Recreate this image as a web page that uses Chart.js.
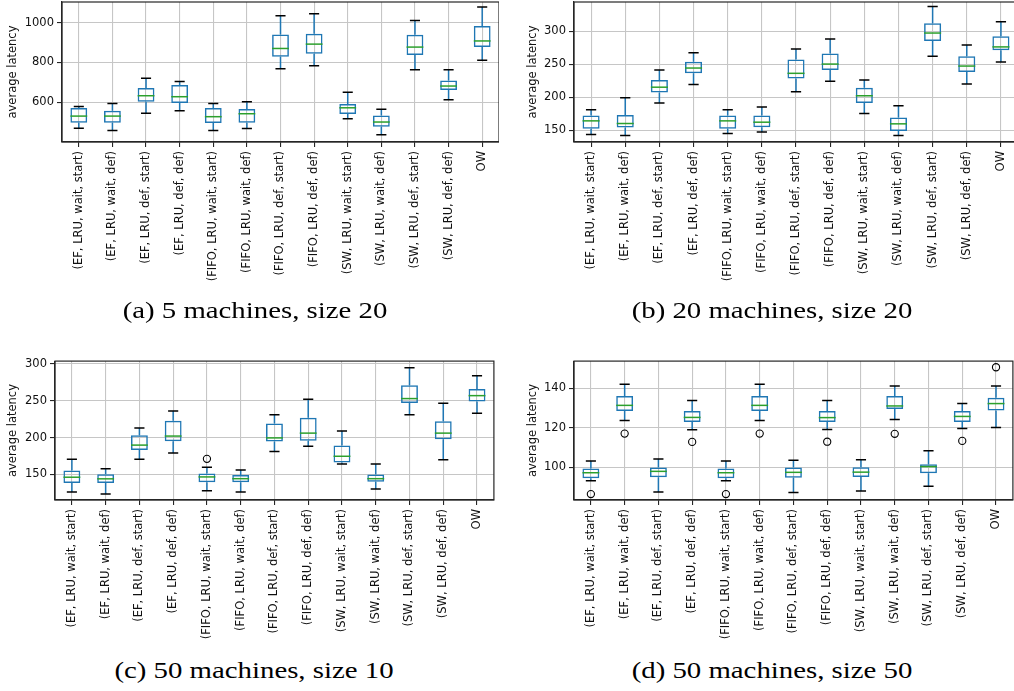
<!DOCTYPE html>
<html>
<head>
<meta charset="utf-8">
<script src="https://cdn.jsdelivr.net/npm/chart.js@4.4.1/dist/chart.umd.min.js"></script>
<style>
  html, body { margin: 0; padding: 0; background: #fff; }
  body { width: 1014px; height: 691px; overflow: hidden; position: relative; }
  canvas { position: absolute; }
  .cap {
    position: absolute; font-family: "Liberation Serif"; font-size: 24px;
    line-height: 24px; white-space: nowrap; color: #000;
    transform: translateX(-50%) scaleX(1.2);
  }
</style>
</head>
<body>
<canvas id="ca" width="497" height="300" style="left:2px;top:0px"></canvas>
<canvas id="cb" width="496" height="300" style="left:522px;top:0px"></canvas>
<canvas id="cc" width="497" height="300" style="left:2px;top:356px"></canvas>
<canvas id="cd" width="496" height="300" style="left:522px;top:356px"></canvas>
<div class="cap" style="left:255px;top:298px">(a) 5 machines, size 20</div>
<div class="cap" style="left:772px;top:298px">(b) 20 machines, size 20</div>
<div class="cap" style="left:254px;top:658px">(c) 50 machines, size 10</div>
<div class="cap" style="left:772px;top:658px">(d) 50 machines, size 50</div>
<script>
const labels = [
  '(EF, LRU, wait, start)', '(EF, LRU, wait, def)', '(EF, LRU, def, start)', '(EF, LRU, def, def)',
  '(FIFO, LRU, wait, start)', '(FIFO, LRU, wait, def)', '(FIFO, LRU, def, start)', '(FIFO, LRU, def, def)',
  '(SW, LRU, wait, start)', '(SW, LRU, wait, def)', '(SW, LRU, def, start)', '(SW, LRU, def, def)', 'OW'
];

// (a) 5 machines, size 20
const loA  = [468, 456, 544, 556, 456, 466, 769, 784, 515, 435, 763, 612, 812];
const q1A  = [495, 495, 601, 595, 494, 495, 829, 844, 539, 475, 838, 661, 878];
const medA = [529, 529, 632, 627, 526, 541, 871, 893, 571, 499, 878, 681, 909];
const q3A  = [570, 556, 671, 686, 570, 565, 942, 946, 590, 532, 941, 709, 985];
const hiA  = [578, 593, 721, 704, 593, 601, 1037, 1047, 649, 563, 1013, 763, 1081];
const outA = [];
const ticksA = [600, 800, 1000];

// (b) 20 machines, size 20
const loB  = [143.5, 142, 191, 219, 145, 147, 208, 224, 175, 142, 262, 220, 253];
const q1B  = [152, 154, 207, 236, 152, 154.5, 228, 241, 191, 148.5, 285, 238, 271];
const medB = [164, 160, 215, 244, 164, 162, 236, 250, 202, 159.5, 297, 247, 276];
const q3B  = [172, 173, 226, 253.5, 172, 172, 257, 266, 214, 169, 312, 262, 292];
const hiB  = [181, 199, 241, 267, 181, 185, 273, 288, 226, 187, 337, 279, 314];
const outB = [];
const ticksB = [150, 200, 250, 300];

// (c) 50 machines, size 10
const loC  = [126, 123, 170.5, 179, 127.7, 126, 181, 188, 164, 130, 231, 169.6, 233];
const q1C  = [138, 138, 183, 195, 139, 139, 194.5, 195.5, 166, 139.7, 247, 197.7, 249];
const medC = [146, 143.8, 189.7, 202, 146.4, 144, 199.5, 206, 174.5, 144, 253, 206, 257];
const q3C  = [155, 150, 203, 223, 151, 149, 219, 227, 189, 149.6, 271, 222, 266];
const hiC  = [170.5, 157.6, 213, 236, 159.4, 155.8, 231, 252, 209, 164, 295, 246.7, 284];
const outC = [[4, 171]];
const ticksC = [150, 200, 250, 300];

// (d) 50 machines, size 50
const loD  = [93.2, 123.6, 87.4, 118.9, 93.2, 123.6, 87.2, 119.1, 88, 124.1, 90.4, 119.6, 120.1];
const q1D  = [94.4, 128.5, 94.9, 122.9, 94.4, 128.5, 94.7, 122.9, 95, 129.4, 97, 122.9, 128.7];
const medD = [97.2, 131.3, 97.9, 125.2, 97.2, 131.3, 97.4, 125.1, 97.5, 131, 100.3, 125.7, 132.2];
const q3D  = [99.4, 136, 99.9, 128.4, 99.4, 136, 99.9, 128.4, 100, 136, 101.5, 128.5, 135.2];
const hiD  = [103.2, 142, 104.2, 133.8, 103.2, 142, 103.5, 133.7, 103.8, 141.1, 108.3, 132.2, 141.1];
const outD = [[0, 86.4], [1, 117], [3, 112.8], [4, 86.4], [5, 117], [7, 112.9], [9, 116.9], [11, 113.3], [12, 150.6]];
const ticksD = [100, 120, 140];

const BLUE = '#1f77b4', GREEN = '#2ca02c', GRID = '#c6c6c6', DARK = '#262626';
const tickFont = { family: 'DejaVu Sans', size: 11.5 };

// whiskers, caps, medians and frame, drawn through the chart's scales
const boxParts = {
  id: 'boxParts',
  afterDatasetsDraw(chart) {
    const { ctx, chartArea, scales: { x, y } } = chart;
    const b = chart.options.plugins.boxParts;
    const step = x.getPixelForValue(1) - x.getPixelForValue(0);
    const boxHalf = step * 0.25, capHalf = step * 0.15;
    ctx.save();
    ctx.lineWidth = 1.5;
    b.med.forEach((m, i) => {
      const px = x.getPixelForValue(i);
      ctx.strokeStyle = BLUE;
      ctx.beginPath();
      ctx.moveTo(px, y.getPixelForValue(b.q1[i])); ctx.lineTo(px, y.getPixelForValue(b.lo[i]));
      ctx.moveTo(px, y.getPixelForValue(b.q3[i])); ctx.lineTo(px, y.getPixelForValue(b.hi[i]));
      ctx.stroke();
      ctx.strokeStyle = '#000';
      ctx.beginPath();
      [b.lo[i], b.hi[i]].forEach(v => {
        const py = y.getPixelForValue(v);
        ctx.moveTo(px - capHalf, py); ctx.lineTo(px + capHalf, py);
      });
      ctx.stroke();
      ctx.strokeStyle = GREEN;
      ctx.beginPath();
      const my = y.getPixelForValue(m);
      ctx.moveTo(px - boxHalf, my); ctx.lineTo(px + boxHalf, my);
      ctx.stroke();
    });
    ctx.strokeStyle = DARK;
    ctx.lineWidth = 1.2;
    ctx.strokeRect(chartArea.left, chartArea.top, chartArea.right - chartArea.left, chartArea.bottom - chartArea.top);
    ctx.restore();
  }
};

function makeChart(id, p) {
  return new Chart(document.getElementById(id), {
    data: {
      labels,
      datasets: [{
        type: 'bar',
        data: p.q1.map((v, i) => [v, p.q3[i]]),
        backgroundColor: 'rgba(0,0,0,0)',
        borderColor: BLUE,
        borderWidth: 1.5,
        borderSkipped: false,
        barPercentage: 0.5,
        categoryPercentage: 1
      }, {
        type: 'line',
        data: p.out.map(([i, v]) => ({ x: labels[i], y: v })),
        showLine: false,
        pointRadius: 3.6,
        pointBorderWidth: 1.1,
        pointBorderColor: '#000',
        pointBackgroundColor: 'rgba(0,0,0,0)'
      }]
    },
    options: {
      responsive: false,
      animation: false,
      devicePixelRatio: 1,
      layout: { padding: { top: p.padTop, left: 0, right: 0, bottom: 0 } },
      plugins: {
        legend: { display: false },
        tooltip: { enabled: false },
        boxParts: p
      },
      scales: {
        x: {
          offset: true,
          grid: { offset: false, color: GRID, lineWidth: 1.1, tickColor: DARK, tickLength: 5 },
          border: { color: DARK, width: 1.2 },
          ticks: { autoSkip: false, minRotation: 90, maxRotation: 90, font: tickFont, color: '#111', padding: 4 },
          afterFit: s => { s.height = 300 - p.bottom; s.paddingLeft = 0; s.paddingRight = 0; }
        },
        y: {
          min: p.min,
          max: p.max,
          afterBuildTicks: s => { s.ticks = p.ticks.map(v => ({ value: v })); },
          afterFit: s => { s.width = p.yWidth; s.paddingTop = 0; s.paddingBottom = 0; },
          grid: { color: GRID, lineWidth: 1.1, tickColor: DARK, tickLength: 5 },
          border: { color: DARK, width: 1.2 },
          ticks: { font: tickFont, color: '#111', padding: 3, callback: v => String(v) },
          title: { display: true, text: 'average latency', font: tickFont, color: '#111', padding: { top: 4, bottom: 0 } }
        }
      }
    },
    plugins: [boxParts]
  });
}

makeChart('ca', { lo: loA, q1: q1A, med: medA, q3: q3A, hi: hiA, out: outA, ticks: ticksA,
  min: 398, max: 1106, yWidth: 60, padTop: 2, bottom: 142 });
makeChart('cb', { lo: loB, q1: q1B, med: medB, q3: q3B, hi: hiB, out: outB, ticks: ticksB,
  min: 132, max: 344, yWidth: 52, padTop: 2, bottom: 142 });
makeChart('cc', { lo: loC, q1: q1C, med: medC, q3: q3C, hi: hiC, out: outC, ticks: ticksC,
  min: 115, max: 304, yWidth: 53, padTop: 2.7, bottom: 144 });
makeChart('cd', { lo: loD, q1: q1D, med: medD, q3: q3D, hi: hiD, out: outD, ticks: ticksD,
  min: 83.4, max: 153.7, yWidth: 52, padTop: 2.7, bottom: 144 });
</script>
</body>
</html>
